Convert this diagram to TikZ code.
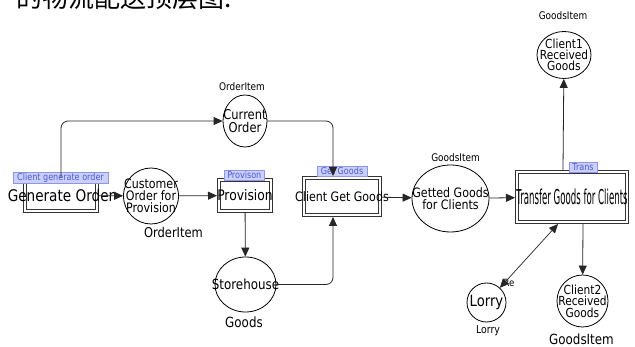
\documentclass[tikz,border=0pt]{standalone}
\usepackage{fontspec}
\usepackage{tikz}
\usetikzlibrary{shapes.geometric,arrows.meta}
\newfontfamily\dfont[FakeStretch=0.85]{DejaVu Sans}
\newfontfamily\cfont[FakeStretch=0.42]{DejaVu Sans}
\newfontfamily\cjk{Noto Sans CJK SC}
\newcommand{\fsz}[1]{\fontsize{#1}{#1}\selectfont}
\definecolor{tagfill}{RGB}{202,208,250}
\definecolor{tagline}{RGB}{140,150,235}
\definecolor{tagtext}{RGB}{75,90,215}

\begin{document}
\begin{tikzpicture}[x=1pt,y=-1pt,
  proc/.style={draw=black!80,double,double distance=2pt,line width=.8pt,inner sep=0pt,outer sep=1.8pt},
  bub/.style={draw,ellipse,line width=.8pt,inner sep=0pt},
  tag/.style={draw=tagline,fill=tagfill,text=tagtext,font=\dfont\fsz{9.5},inner sep=0pt,line width=.6pt},
  lbl/.style={inner sep=0pt,align=center},
  flow/.style={draw=black!85,line width=.8pt,-{Triangle[length=9pt,width=8pt]}},
  both/.style={draw=black!85,line width=.7pt,{Triangle[length=9pt,width=8pt]}-{Triangle[length=9pt,width=8pt]}}]
\useasboundingbox (0,0) rectangle (635,347);
\fill[white] (0,0) rectangle (635,347);
\clip (0,0) rectangle (635,347);
\node[anchor=base west,inner sep=0pt,font=\cjk\fsz{26}] (title) at (16,8) {的物流配送顶层图:};

\node[proc,minimum width=72.4,minimum height=31.4,label={[lbl,font=\dfont\fsz{16}]center:Generate Order}] (gen) at (61,195.5) {};
\node[proc,minimum width=52.4,minimum height=31.4,label={[lbl,font=\dfont\fsz{14.5}]center:Provision}] (prov) at (245,195.5) {};
\node[proc,minimum width=76.4,minimum height=37.4,label={[lbl,font=\dfont\fsz{13}]center:Client Get Goods}] (get) at (342,196.5) {};
\node[proc,minimum width=110.4,minimum height=50.4,label={[lbl,font=\cfont\fsz{20.5}]center:Transfer Goods for Clients}] (trans) at (572,197) {};

\node[bub,minimum width=55,minimum height=56,label={[lbl,font=\dfont\fontsize{13}{12}\selectfont]center:Customer\\Order for\\Provision}] (cust) at (151,196) {};
\node[bub,minimum width=44,minimum height=52,label={[lbl,font=\dfont\fontsize{13.5}{12.5}\selectfont]center:Current\\Order}] (cur) at (245,121) {};
\node[bub,minimum width=61,minimum height=55,label={[lbl,font=\dfont\fsz{14}]center:Storehouse}] (store) at (245.5,284.5) {};
\node[bub,minimum width=77,minimum height=67,label={[lbl,font=\dfont\fontsize{13}{12}\selectfont]center:Getted Goods\\for Clients}] (getted) at (450.5,198.5) {};
\node[bub,minimum width=54,minimum height=47,label={[lbl,font=\dfont\fontsize{12.5}{11}\selectfont]center:Client1\\Received\\Goods}] (c1) at (564,55) {};
\node[bub,minimum width=51,minimum height=52,label={[lbl,font=\dfont\fontsize{12.5}{11.5}\selectfont]center:Client2\\Received\\Goods}] (c2) at (582.5,301) {};
\node[bub,minimum width=39,minimum height=39,label={[lbl,font=\dfont\fsz{15.5}]center:Lorry}] (lorry) at (486.5,302.5) {};

\node[tag,minimum width=95,minimum height=11] (tg1) at (60.5,177.5) {Client generate order};
\node[tag,minimum width=40,minimum height=10] (tg2) at (244.3,175) {Provison};
\node[tag,minimum width=50,minimum height=10] (tg3) at (342,171) {Get Goods};
\node[tag,minimum width=28,minimum height=10] (tg4) at (583,167) {Trans};

\node[lbl,font=\dfont\fsz{13.5}] (oi1) at (173.5,232) {OrderItem};
\node[lbl,font=\dfont\fsz{10.5}] (oi2) at (242,87) {OrderItem};
\node[lbl,font=\dfont\fsz{14}] (gd) at (244,322) {Goods};
\node[lbl,font=\dfont\fsz{10.5}] (gi1) at (455.5,158) {GoodsItem};
\node[lbl,font=\dfont\fsz{10.5}] (gi2) at (563,16) {GoodsItem};
\node[lbl,font=\dfont\fsz{14}] (gi3) at (581.5,339) {GoodsItem};
\node[lbl,font=\dfont\fsz{11}] (lry) at (488,331) {Lorry};
\node[lbl,font=\dfont\fsz{10}] (use) at (509,283) {Re};

\draw[flow] (gen) -- (cust);
\draw[flow] (cust) -- (prov);
\draw[flow] (prov) -- (store);
\draw[flow,rounded corners=7pt] (gen) |- (cur);
\draw[flow,rounded corners=7pt] (cur) -| ([xshift=-9pt]get.north);
\draw[flow,rounded corners=7pt] (store) -| ([xshift=-9pt]get.south);
\draw[flow] (get) -- (getted);
\draw[flow] (getted) -- (trans);
\draw[flow] ([xshift=-9pt]trans.north) -- (c1);
\draw[flow] ([xshift=11pt]trans.south) -- (c2);
\draw[both] (lorry) -- ([xshift=-14pt]trans.south);
\end{tikzpicture}
\end{document}
